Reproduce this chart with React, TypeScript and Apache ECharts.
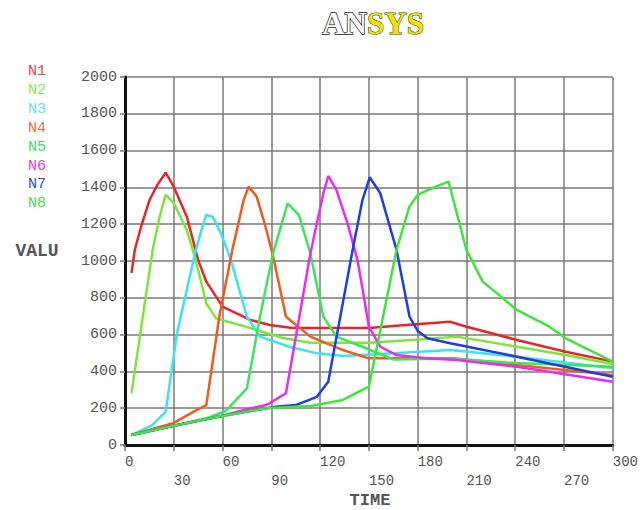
import React, { useEffect, useRef } from "react";
import * as echarts from "echarts";

const seriesNames = ["N1", "N2", "N3", "N4", "N5", "N6", "N7", "N8"];
const lineColors = ["#e8262a", "#7ce63a", "#3ae4f0", "#f25a1e", "#3ae65a", "#ee2aee", "#1e3ee0", "#3ee63a"];
const legendColors = ["#e84848", "#8ee860", "#5ee0f0", "#f07040", "#40e070", "#e040e0", "#3050d0", "#50e050"];

const n1 = [[4,935],[6,1060],[10,1190],[15,1330],[20,1415],[25,1480],[30,1404],[38,1241],[45,1005],[50,888],[60,752],[77,680],[89,652],[103,636],[150,636],[165,647],[181,658],[200,670],[210,643],[241,571],[271,507],[300,453]];
const n2 = [[4,281],[17,1060],[21,1230],[25,1359],[30,1315],[38,1168],[43,1023],[50,770],[56,688],[77,636],[97,581],[114,556],[150,556],[181,574],[204,589],[241,534],[271,489],[300,440]];
const n3 = [[4,54],[17,109],[25,181],[32,607],[43,1040],[47,1168],[50,1250],[54,1240],[59,1150],[65,1010],[75,697],[83,589],[101,534],[118,498],[134,484],[165,498],[200,516],[241,480],[300,417]];
const n4 = [[4,54],[30,120],[44,190],[50,217],[58,697],[66,1060],[73,1332],[76,1404],[81,1350],[86,1200],[91,1030],[99,697],[114,589],[134,516],[150,471],[165,471],[202,471],[241,435],[300,380]];
const n5 = [[4,54],[30,105],[50,145],[62,185],[75,308],[83,697],[91,1040],[100,1313],[107,1250],[114,1040],[122,697],[130,589],[146,534],[165,465],[200,470],[241,445],[300,425]];
const n6 = [[4,54],[30,105],[58,155],[77,199],[87,217],[99,281],[114,1040],[122,1368],[125,1462],[130,1386],[137,1200],[143,1005],[147,800],[150,643],[157,534],[167,489],[185,471],[204,462],[241,425],[300,344]];
const n7 = [[4,54],[30,105],[58,155],[87,200],[93,208],[105,217],[118,262],[125,344],[140,1060],[146,1330],[150.5,1455],[157,1368],[167,1060],[169,969],[175,697],[180,620],[186,580],[200,553],[241,480],[300,371]];
const n8 = [[4,54],[30,105],[58,155],[87,200],[114,212],[134,245],[150,317],[167,1060],[175,1297],[180,1359],[190,1400],[199,1431],[210,1060],[220,888],[241,734],[261,643],[271,580],[300,453]];
const allData = [n1, n2, n3, n4, n5, n6, n7, n8];

const mono = "'Liberation Mono', 'DejaVu Sans Mono', monospace";

export default function App() {
  const ref = useRef<HTMLDivElement>(null);
  useEffect(() => {
    if (!ref.current) return;
    const chart = echarts.init(ref.current, null, { renderer: "svg" });
    chart.setOption({
      animation: false,
      backgroundColor: "#ffffff",
      grid: { left: 125, right: 26, top: 77, bottom: 65 },
      legend: {
        orient: "vertical",
        left: 18,
        top: 58,
        icon: "none",
        itemWidth: 0,
        itemHeight: 17,
        itemGap: 2.9,
        selectedMode: false,
        textStyle: { fontFamily: mono, fontSize: 15 },
        data: seriesNames.map((n, i) => ({ name: n, textStyle: { color: legendColors[i] } })),
      },
      xAxis: {
        type: "value",
        min: 0,
        max: 300,
        interval: 30,
        axisLine: { show: true, onZero: false, lineStyle: { color: "#111", width: 3 } },
        axisTick: { show: true, length: 6, lineStyle: { color: "#7a7a7a", width: 1.5 } },
        splitLine: { show: true, lineStyle: { color: "#7a7a7a", width: 1.5 } },
        axisLabel: {
          show: true,
          showMaxLabel: true,
          showMinLabel: true,
          align: "left",
          margin: 7,
          fontFamily: mono,
          fontSize: 14,
          lineHeight: 19,
          color: "#555",
          formatter: (v: number) => ((v / 30) % 2 === 1 ? "\n" + v : String(v)),
        },
      },
      yAxis: {
        type: "value",
        min: 0,
        max: 2000,
        interval: 200,
        axisLine: { show: true, onZero: false, lineStyle: { color: "#111", width: 3 } },
        axisTick: { show: true, length: 5, lineStyle: { color: "#7a7a7a", width: 1.5 } },
        splitLine: { show: true, lineStyle: { color: "#7a7a7a", width: 1.5 } },
        axisLabel: {
          show: true,
          margin: 8,
          fontFamily: mono,
          fontSize: 15,
          color: "#555",
          padding: [0, 0, 7, 0],
          formatter: (v: number) => String(v),
        },
      },
      graphic: [
        {
          type: "text",
          x: 367,
          y: 23,
          style: {
            text: "AN",
            fill: "#ffffff",
            stroke: "#222",
            lineWidth: 1.5,
            font: "bold 31px 'Liberation Serif', serif",
            textAlign: "right",
            textVerticalAlign: "middle",
          },
        },
        {
          type: "text",
          x: 367,
          y: 23,
          style: {
            text: "SYS",
            fill: "#f2e400",
            stroke: "#333",
            lineWidth: 1,
            font: "bold 31px 'Liberation Serif', serif",
            textAlign: "left",
            textVerticalAlign: "middle",
          },
        },
        {
          type: "text",
          x: 37,
          y: 251,
          style: {
            text: "VALU",
            fill: "#555",
            font: "bold 18px 'Liberation Mono', monospace",
            textAlign: "center",
            textVerticalAlign: "middle",
          },
        },
        {
          type: "text",
          x: 370,
          y: 500,
          style: {
            text: "TIME",
            fill: "#555",
            font: "bold 17px 'Liberation Mono', monospace",
            textAlign: "center",
            textVerticalAlign: "middle",
          },
        },
      ],
      series: seriesNames.map((n, i) => ({
        name: n,
        type: "line",
        data: allData[i],
        showSymbol: false,
        symbol: "none",
        color: lineColors[i],
        lineStyle: { color: lineColors[i], width: 2.5 },
      })),
    });
    return () => chart.dispose();
  }, []);
  return (
    <div
      ref={ref}
      style={{ position: "fixed", left: 0, top: 0, width: 641, height: 510, background: "#fff" }}
    />
  );
}
